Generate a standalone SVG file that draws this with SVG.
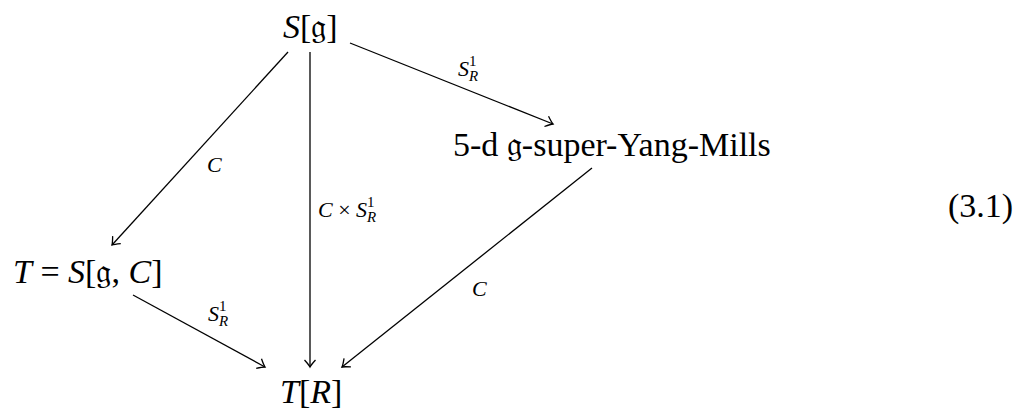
<svg xmlns="http://www.w3.org/2000/svg" width="1029" height="411" viewBox="0 0 1029 411">
<style>
.n{font-family:"Liberation Serif","DejaVu Serif",serif;font-size:34px;fill:#000}
.l{font-family:"Liberation Serif","DejaVu Serif",serif;font-size:22px;font-style:italic;fill:#000}
.i{font-style:italic}
.sm{font-size:15px}
.e{stroke:#000;stroke-width:1.3;fill:none;marker-end:url(#ah)}
</style>
<defs>
<marker id="ah" viewBox="-10 -7 12 14" markerWidth="12" markerHeight="14" refX="0" refY="0" orient="auto" markerUnits="userSpaceOnUse">
<path d="M-7,-5.5 Q-2,-1 0,0 Q-2,1 -7,5.5" stroke="#000" stroke-width="1.3" fill="none"/>
</marker>
</defs>
<g id="connectors">
<line class="e" x1="350" y1="43" x2="553" y2="124"/>
<line class="e" x1="288" y1="52" x2="112" y2="245"/>
<line class="e" x1="310" y1="52" x2="310" y2="367"/>
<line class="e" x1="592" y1="168" x2="342" y2="367"/>
<line class="e" x1="133" y1="295" x2="265" y2="367"/>
<text class="l" x="458" y="76">S<tspan class="sm" dy="-10" font-style="normal">1</tspan><tspan class="sm" dx="-7.5" dy="15">R</tspan></text>
<text class="l" x="207" y="172">C</text>
<text class="l" x="318" y="217">C <tspan font-style="normal">×</tspan> S<tspan class="sm" dy="-10" font-style="normal">1</tspan><tspan class="sm" dx="-7.5" dy="15">R</tspan></text>
<text class="l" x="472" y="296">C</text>
<text class="l" x="208" y="321">S<tspan class="sm" dy="-10" font-style="normal">1</tspan><tspan class="sm" dx="-7.5" dy="15">R</tspan></text>
</g>
<g id="node-Sg"><text class="n" x="283" y="38"><tspan class="i">S</tspan>[𝔤]</text></g>
<g id="node-5d"><text class="n" x="453" y="156">5-d 𝔤-super-Yang-Mills</text></g>
<g id="node-T"><text class="n" x="13" y="283"><tspan class="i">T</tspan> = <tspan class="i">S</tspan>[𝔤, <tspan class="i">C</tspan>]</text></g>
<g id="node-TR"><text class="n" x="280" y="403"><tspan class="i">T</tspan>[<tspan class="i">R</tspan>]</text></g>
<text class="n" x="948" y="217" font-size="32">(3.1)</text>
</svg>
